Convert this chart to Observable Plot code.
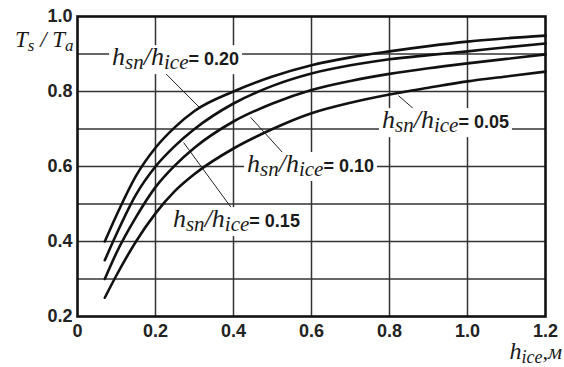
<!DOCTYPE html>
<html><head><meta charset="utf-8">
<script src="https://cdn.jsdelivr.net/npm/d3@7"></script>
<script src="https://cdn.jsdelivr.net/npm/@observablehq/plot@0.6"></script>
<style>
html,body{margin:0;padding:0;background:#fff;}
</style>
</head><body><div id="chart"></div>
<script>
// ice thickness, m
const hIce = [0.07,0.10,0.15,0.20,0.25,0.30,0.40,0.50,0.60,0.70,0.80,0.90,1.00,1.10,1.20];
// Ts/Ta for each snow/ice ratio
const ratio020 = [0.40,0.47,0.575,0.65,0.705,0.748,0.800,0.840,0.870,0.891,0.907,0.921,0.933,0.942,0.949];
const ratio015 = [0.35,0.42,0.525,0.60,0.655,0.700,0.768,0.815,0.848,0.870,0.886,0.897,0.907,0.918,0.928];
const ratio010 = [0.30,0.37,0.465,0.545,0.603,0.650,0.720,0.768,0.804,0.828,0.847,0.862,0.875,0.887,0.899];
const ratio005 = [0.25,0.31,0.40,0.475,0.535,0.580,0.648,0.700,0.742,0.770,0.792,0.810,0.827,0.840,0.853];
const ratioNames = ["0.20","0.15","0.10","0.05"];
const seriesValues = [ratio020, ratio015, ratio010, ratio005];

const xTicks = [0,0.2,0.4,0.6,0.8,1.0,1.2];
const yTicks = [0.2,0.4,0.6,0.8,1.0];
const xGrid = [0.2,0.4,0.6,0.8,1.0];
const yGrid = [0.3,0.4,0.5,0.6,0.7,0.8,0.9];

// label anchors (data units): left x, baseline y
const labelX = [0.09, 0.246, 0.436, 0.782];
const labelY = [0.869, 0.437, 0.584, 0.701];
// leader lines (data units)
const leadX1 = [0.226, 0.272, 0.444, 0.823];
const leadY1 = [0.848, 0.664, 0.731, 0.789];
const leadX2 = [0.315, 0.405, 0.526, 0.867];
const leadY2 = [0.755, 0.475, 0.637, 0.749];

const rows = [];
ratioNames.forEach((r, i) => hIce.forEach((h, j) => rows.push({r, h, v: seriesValues[i][j]})));
const leaders = ratioNames.map((r, i) => ({x1: leadX1[i], y1: leadY1[i], x2: leadX2[i], y2: leadY2[i]}));

const plot = Plot.plot({
  width: 564, height: 367,
  marginLeft: 77, marginRight: 19, marginTop: 16, marginBottom: 51,
  style: {fontFamily: "Liberation Sans, Arial, sans-serif", fontSize: "18px", fontWeight: "bold", color: "#222", background: "#fff"},
  x: {domain: [0, 1.2], ticks: xTicks, tickFormat: d => d === 0 ? "0" : d3.format(".1f")(d), tickSize: 0, tickPadding: 8, label: null},
  y: {domain: [0.2, 1.0], ticks: yTicks, tickFormat: d3.format(".1f"), tickSize: 0, tickPadding: 5, label: null},
  marks: [
    Plot.ruleX(xGrid, {stroke: "#333", strokeWidth: 1.5}),
    Plot.ruleY(yGrid, {stroke: "#333", strokeWidth: 1.5}),
    Plot.line(rows, {x: "h", y: "v", z: "r", stroke: "#111", strokeWidth: 2.6, curve: "monotone-x"}),
    Plot.link(leaders, {x1: "x1", y1: "y1", x2: "x2", y2: "y2", stroke: "#222", strokeWidth: 1}),
    Plot.frame({stroke: "#111", strokeWidth: 2.6})
  ]
});
document.getElementById("chart").appendChild(plot);

const sx = plot.scale("x"), sy = plot.scale("y");
const svg = d3.select(plot);
const serif = "Liberation Serif, Times New Roman, serif";
const sans = "Liberation Sans, Arial, sans-serif";

function addLabel(i) {
  const g = svg.append("g");
  const t = g.append("text")
    .attr("x", sx.apply(labelX[i])).attr("y", sy.apply(labelY[i]))
    .attr("text-anchor", "start")
    .attr("fill", "#1a1a1a");
  const it = (s, size, dy) => t.append("tspan").attr("font-family", serif).attr("font-style", "italic").attr("font-weight", "normal").attr("font-size", size).attr("dy", dy).text(s);
  it("h", 26, 0);
  it("sn", 21, 4);
  it("/h", 26, -4);
  it("ice", 21, 4);
  t.append("tspan").attr("font-family", sans).attr("font-weight", "bold").attr("font-size", 18).attr("dy", -4).text("= " + ratioNames[i]);
  const b = t.node().getBBox();
  g.insert("rect", "text").attr("x", b.x - 3).attr("y", b.y + 3).attr("width", b.width + 6).attr("height", b.height - 3).attr("fill", "#fff");
}
ratioNames.forEach((r, i) => addLabel(i));

// axis titles
const yt = svg.append("text").attr("x", 15).attr("y", 47).attr("text-anchor", "start").attr("fill", "#1a1a1a")
  .attr("font-family", serif).attr("font-style", "italic").attr("font-weight", "normal");
yt.append("tspan").attr("font-size", 23).text("T");
yt.append("tspan").attr("font-size", 17).attr("dy", 4).text("s");
yt.append("tspan").attr("font-size", 23).attr("dy", -4).text(" / T");
yt.append("tspan").attr("font-size", 17).attr("dy", 4).text("a");

const xt = svg.append("text").attr("x", 562).attr("y", 359).attr("text-anchor", "end").attr("fill", "#1a1a1a")
  .attr("font-family", serif).attr("font-style", "italic").attr("font-weight", "normal");
xt.append("tspan").attr("font-size", 24).text("h");
xt.append("tspan").attr("font-size", 18).attr("dy", 4).text("ice");
xt.append("tspan").attr("font-size", 22).attr("dy", -4).text(",м");
</script>
</body></html>
